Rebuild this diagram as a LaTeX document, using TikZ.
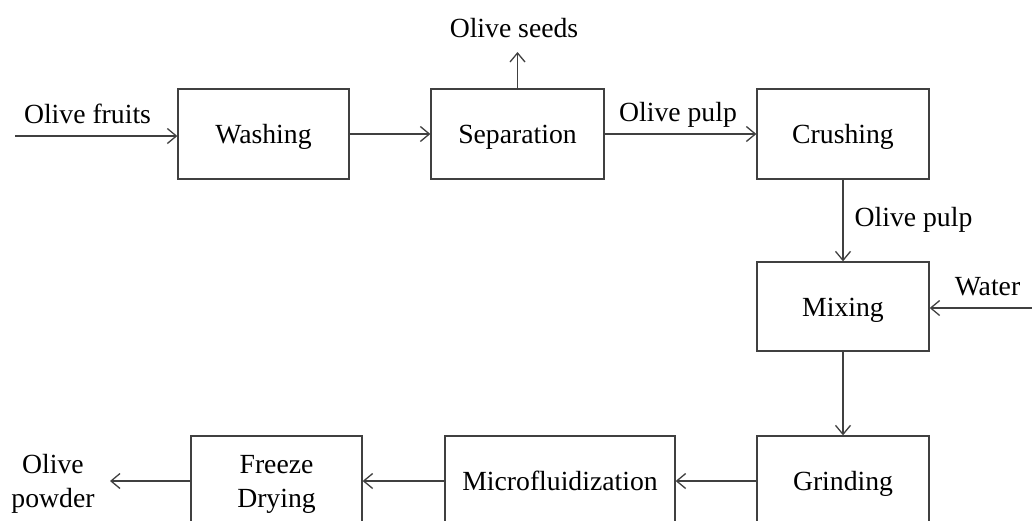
\documentclass[tikz,border=0pt]{standalone}
\usepackage{fontspec}
\setmainfont{Liberation Serif}
\usetikzlibrary{arrows.meta}
\definecolor{linegray}{RGB}{64,64,64}
\begin{document}
\begin{tikzpicture}[x=1pt,y=-1pt,
  txt/.style={font=\fontsize{27.7}{34}\selectfont},
  lbl/.style={txt, inner sep=0pt, anchor=base, align=center},
  proc/.style={txt, draw=linegray, line width=1.3pt, minimum height=90pt, inner sep=0pt, align=center},
  oneline/.style={text height=19pt, text depth=0pt},
  flow/.style={draw=linegray, line width=1.3pt, -{Straight Barb[length=9pt,width=15pt,line width=1.3pt]}}]
\useasboundingbox (0,0) rectangle (1032,520);
\clip (0,0) rectangle (1032,520);
% process boxes
\node[proc, oneline, minimum width=171pt] (wash) at (263.5,134) {Washing};
\node[proc, oneline, minimum width=173pt] (sep) at (517.5,134) {Separation};
\node[proc, oneline, minimum width=172pt] (crush) at (843,134) {Crushing};
\node[proc, oneline, minimum width=172pt, minimum height=89pt] (mix) at (843,306.5) {Mixing};
\node[proc, oneline, minimum width=172pt] (grind) at (843,481) {Grinding};
\node[proc, oneline, minimum width=230pt] (micro) at (560,481) {Microfluidization};
\node[proc, text height=52pt, text depth=0pt, minimum width=171pt] (freeze) at (276.5,481) {Freeze\\Drying};
% free ends
\coordinate (infruit) at (15,136);
\coordinate (seedsend) at (517.5,52);
\coordinate (waterstart) at (1032,308);
\coordinate (powderend) at (110,481);
% labels
\node[lbl] (lfruit) at (87.5,123) {Olive fruits};
\node[lbl] (lseeds) at (514,37.5) {Olive seeds};
\node[lbl] (lpulp1) at (678,121.5) {Olive pulp};
\node[lbl] (lpulp2) at (913.5,226) {Olive pulp};
\node[lbl] (lwater) at (987.5,295) {Water};
\node[lbl] (lpowder) at (53,507) {Olive\\powder};
% connectors
\draw[flow] (infruit) -- (infruit -| wash.west);
\draw[flow] (wash) -- (sep);
\draw[flow] (sep.north) -- (seedsend);
\draw[flow] (sep) -- (crush);
\draw[flow] (crush) -- (mix);
\draw[flow] (waterstart) -- (waterstart -| mix.east);
\draw[flow] (mix) -- (grind);
\draw[flow] (grind) -- (micro);
\draw[flow] (micro) -- (freeze);
\draw[flow] (freeze.west) -- (powderend);
\end{tikzpicture}
\end{document}
